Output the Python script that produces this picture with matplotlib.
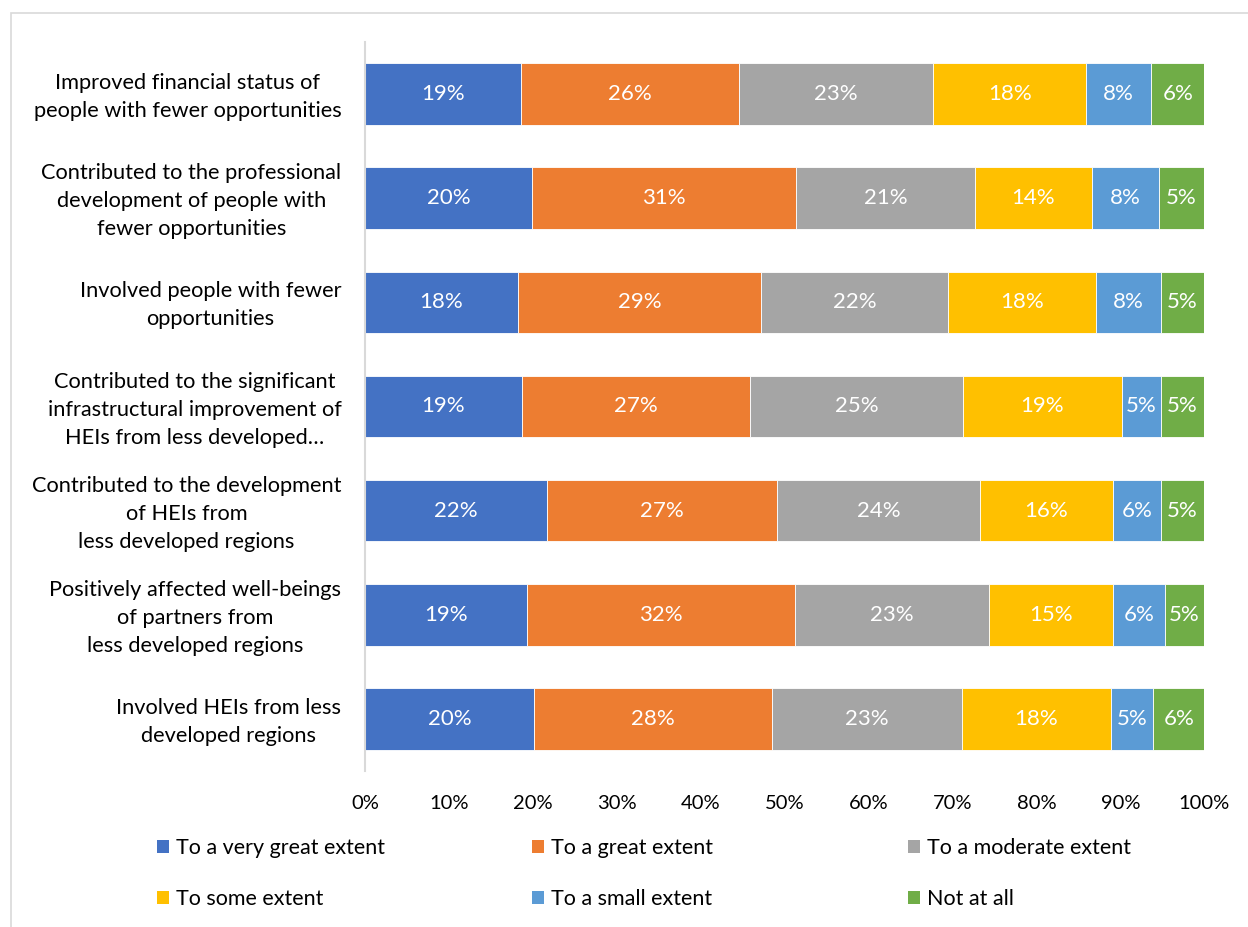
import matplotlib
matplotlib.use("Agg")
import matplotlib.pyplot as plt
from matplotlib.patches import Rectangle, Patch
import numpy as np

plt.rcParams['font.family'] = ['Lato', 'DejaVu Sans']

categories = [
    "Improved financial status of\npeople with fewer opportunities",
    "Contributed to the professional\ndevelopment of people with\nfewer opportunities",
    "Involved people with fewer\nopportunities",
    "Contributed to the significant\ninfrastructural improvement of\nHEIs from less developed…",
    "Contributed to the development\nof HEIs from\nless developed regions",
    "Positively affected well-beings\nof partners from\nless developed regions",
    "Involved HEIs from less\ndeveloped regions",
]

series_names = [
    "To a very great extent",
    "To a great extent",
    "To a moderate extent",
    "To some extent",
    "To a small extent",
    "Not at all",
]

# share of answers per statement, in percent
very_great = [18.6, 19.9, 18.2, 18.7, 21.7, 19.3, 20.1]
great      = [26.0, 31.4, 29.0, 27.2, 27.4, 31.9, 28.4]
moderate   = [23.1, 21.4, 22.3, 25.3, 24.2, 23.2, 22.6]
some       = [18.2, 13.9, 17.6, 19.0, 15.8, 14.7, 17.8]
small      = [7.8, 8.0, 7.7, 4.6, 5.7, 6.2, 5.0]
not_at_all = [6.3, 5.4, 5.2, 5.2, 5.2, 4.7, 6.1]

colors = ['#4472C4', '#ED7D31', '#A5A5A5', '#FFC000', '#5B9BD5', '#70AD47']

W, H = 1248, 927
fig = plt.figure(figsize=(W / 100, H / 100), dpi=100)
ax = fig.add_axes([365 / W, 1 - 771 / H, (1204.3 - 365) / W, (771 - 42) / H])

# light frame around the chart area
fig.patches.append(Rectangle((11 / W, -0.05), 1.1, 1 - 13 / H + 0.05,
                             transform=fig.transFigure, fill=False,
                             edgecolor='#D9D9D9', linewidth=1.2))

y = np.arange(len(categories))
left = np.zeros(len(categories))
series = [very_great, great, moderate, some, small, not_at_all]
handles = []
for name, vals, col in zip(series_names, series, colors):
    vals = np.array(vals) / 100
    bars = ax.barh(y, vals, left=left, height=0.59, color=col,
                   edgecolor='white', linewidth=0.6, label=name)
    ax.bar_label(bars, labels=[f"{round(v * 100)}%" for v in vals],
                 label_type='center', color='white', fontsize=16)
    left += vals
    handles.append(Patch(facecolor=col, edgecolor='none'))

ax.set_xlim(0, 1)
ax.set_ylim(len(categories) - 0.5, -0.5)
ax.set_xticks(np.linspace(0, 1, 11))
ax.set_xticklabels([f"{int(t)}%" for t in np.linspace(0, 100, 11)], fontsize=14.5)
ax.set_yticks(y)
ax.set_yticklabels(categories, fontsize=15.7, linespacing=1.5)
for t in ax.get_yticklabels():
    t.set_multialignment('center')
    t.set_y(t.get_position()[1])
ax.tick_params(axis='both', length=0)
ax.tick_params(axis='x', pad=17)
ax.tick_params(axis='y', pad=17)

# nudge the category labels up a little
offset = matplotlib.transforms.ScaledTranslation(0, 3 / 100, fig.dpi_scale_trans)
for t in ax.get_yticklabels():
    t.set_transform(t.get_transform() + offset)

for s in ['top', 'right', 'bottom']:
    ax.spines[s].set_visible(False)
ax.spines['left'].set_color('#D9D9D9')
ax.spines['left'].set_linewidth(1.5)

# legend laid out as three fixed-width columns
col_x = [157 / W, 532 / W, 908 / W]
for i, x0 in enumerate(col_x):
    fig.legend([handles[i], handles[i + 3]],
               [series_names[i], series_names[i + 3]],
               loc='center left', bbox_to_anchor=(x0, 1 - 873.5 / H),
               frameon=False, fontsize=15.5, handlelength=0.55,
               handleheight=0.55, handletextpad=0.35,
               labelspacing=1.45, borderpad=0, borderaxespad=0)

fig.savefig("out.png", dpi=100)
